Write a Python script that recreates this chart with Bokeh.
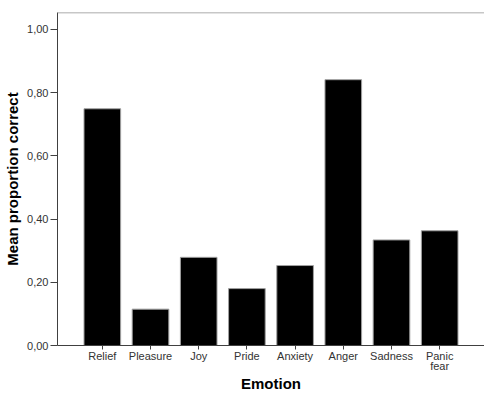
from bokeh.plotting import figure
from bokeh.models import FactorRange, Range1d, FixedTicker, Span, ColumnDataSource
from bokeh.embed import file_html
from bokeh.resources import INLINE

# ---- data ----
emotions = ["Relief", "Pleasure", "Joy", "Pride", "Anxiety", "Anger", "Sadness", "Panic\nfear"]
mean_correct = [0.749, 0.115, 0.279, 0.180, 0.253, 0.841, 0.334, 0.363]
y_ticks = [0.0, 0.2, 0.4, 0.6, 0.8, 1.0]
y_tick_labels = ["0,00", "0,20", "0,40", "0,60", "0,80", "1,00"]

FONT = "Liberation Sans"
Y_TOP = 1.0536

p = figure(
    width=484, height=394,
    x_range=FactorRange(factors=emotions, range_padding=0.1075, range_padding_units="percent"),
    y_range=Range1d(0, Y_TOP),
    output_backend="svg", toolbar_location=None,
    min_border_left=57, min_border_top=12, min_border_bottom=48, min_border_right=0,
)
p.background_fill_color = "white"
p.border_fill_color = "white"
p.outline_line_color = None
p.grid.visible = False

src = ColumnDataSource(dict(x=emotions, top=mean_correct))
p.vbar(x="x", top="top", bottom=0, width=0.76, source=src,
       fill_color="black", line_color="#a0a0a0", line_width=1)

p.add_layout(Span(location=Y_TOP, dimension="width", line_color="#909090", line_width=1.5))

# y axis
p.yaxis.ticker = FixedTicker(ticks=y_ticks)
p.yaxis.major_label_overrides = {t: l for t, l in zip(y_ticks, y_tick_labels)}
p.yaxis.minor_tick_line_color = None
p.yaxis.major_tick_in = 0
p.yaxis.major_tick_out = 7
p.yaxis.major_label_standoff = 2
p.yaxis.axis_label = "Mean proportion correct"
p.yaxis.axis_label_standoff = 3

# x axis
p.xaxis.major_tick_in = 0
p.xaxis.major_tick_out = 4
p.xaxis.major_label_standoff = 0
p.xaxis.axis_label = "Emotion"
p.xaxis.axis_label_standoff = 0

for ax in (p.xaxis, p.yaxis):
    ax.axis_line_color = "#404040"
    ax.major_tick_line_color = "#404040"
    ax.major_label_text_font = FONT
    ax.major_label_text_font_size = "11px"
    ax.major_label_text_color = "#333333"
    ax.major_label_text_line_height = 0.85
    ax.axis_label_text_font = FONT
    ax.axis_label_text_font_size = "15px"
    ax.axis_label_text_font_style = "bold"
    ax.axis_label_text_color = "black"
    ax.axis_label_text_line_height = 0.8

open("out.html", "w").write(file_html(p, INLINE))
